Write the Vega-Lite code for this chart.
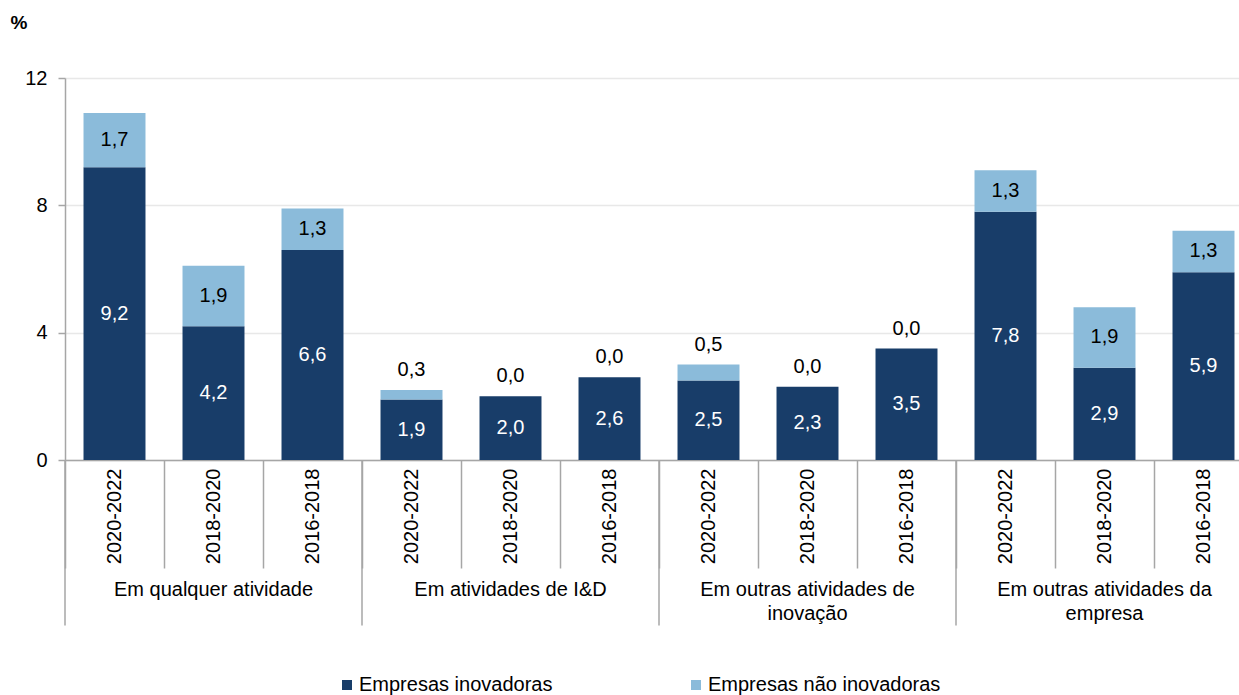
{
  "$schema": "https://vega.github.io/schema/vega-lite/v6.json",
  "width": 1188,
  "height": 382,
  "autosize": {"type": "none"},
  "padding": {"left": 65, "top": 78, "right": -14, "bottom": 235},
  "config": {
    "locale": {"number": {"decimal": ",", "thousands": ".", "grouping": [3], "currency": ["", " €"]}},
    "view": {"stroke": null},
    "font": "Liberation Sans",
    "text": {"font": "Liberation Sans", "fontSize": 20, "lineBreak": "\n"}
  },
  "datasets": {
    "segs": [
      {"grupo": "Em qualquer atividade", "periodo": "2020-2022", "bar": "1|2020-2022", "serie": "Empresas inovadoras", "valor": 9.2},
      {"grupo": "Em qualquer atividade", "periodo": "2020-2022", "bar": "1|2020-2022", "serie": "Empresas não inovadoras", "valor": 1.7},
      {"grupo": "Em qualquer atividade", "periodo": "2018-2020", "bar": "1|2018-2020", "serie": "Empresas inovadoras", "valor": 4.2},
      {"grupo": "Em qualquer atividade", "periodo": "2018-2020", "bar": "1|2018-2020", "serie": "Empresas não inovadoras", "valor": 1.9},
      {"grupo": "Em qualquer atividade", "periodo": "2016-2018", "bar": "1|2016-2018", "serie": "Empresas inovadoras", "valor": 6.6},
      {"grupo": "Em qualquer atividade", "periodo": "2016-2018", "bar": "1|2016-2018", "serie": "Empresas não inovadoras", "valor": 1.3},
      {"grupo": "Em atividades de I&D", "periodo": "2020-2022", "bar": "2|2020-2022", "serie": "Empresas inovadoras", "valor": 1.9},
      {"grupo": "Em atividades de I&D", "periodo": "2020-2022", "bar": "2|2020-2022", "serie": "Empresas não inovadoras", "valor": 0.3},
      {"grupo": "Em atividades de I&D", "periodo": "2018-2020", "bar": "2|2018-2020", "serie": "Empresas inovadoras", "valor": 2.0},
      {"grupo": "Em atividades de I&D", "periodo": "2018-2020", "bar": "2|2018-2020", "serie": "Empresas não inovadoras", "valor": 0.0},
      {"grupo": "Em atividades de I&D", "periodo": "2016-2018", "bar": "2|2016-2018", "serie": "Empresas inovadoras", "valor": 2.6},
      {"grupo": "Em atividades de I&D", "periodo": "2016-2018", "bar": "2|2016-2018", "serie": "Empresas não inovadoras", "valor": 0.0},
      {"grupo": "Em outras atividades de inovação", "periodo": "2020-2022", "bar": "3|2020-2022", "serie": "Empresas inovadoras", "valor": 2.5},
      {"grupo": "Em outras atividades de inovação", "periodo": "2020-2022", "bar": "3|2020-2022", "serie": "Empresas não inovadoras", "valor": 0.5},
      {"grupo": "Em outras atividades de inovação", "periodo": "2018-2020", "bar": "3|2018-2020", "serie": "Empresas inovadoras", "valor": 2.3},
      {"grupo": "Em outras atividades de inovação", "periodo": "2018-2020", "bar": "3|2018-2020", "serie": "Empresas não inovadoras", "valor": 0.0},
      {"grupo": "Em outras atividades de inovação", "periodo": "2016-2018", "bar": "3|2016-2018", "serie": "Empresas inovadoras", "valor": 3.5},
      {"grupo": "Em outras atividades de inovação", "periodo": "2016-2018", "bar": "3|2016-2018", "serie": "Empresas não inovadoras", "valor": 0.0},
      {"grupo": "Em outras atividades da empresa", "periodo": "2020-2022", "bar": "4|2020-2022", "serie": "Empresas inovadoras", "valor": 7.8},
      {"grupo": "Em outras atividades da empresa", "periodo": "2020-2022", "bar": "4|2020-2022", "serie": "Empresas não inovadoras", "valor": 1.3},
      {"grupo": "Em outras atividades da empresa", "periodo": "2018-2020", "bar": "4|2018-2020", "serie": "Empresas inovadoras", "valor": 2.9},
      {"grupo": "Em outras atividades da empresa", "periodo": "2018-2020", "bar": "4|2018-2020", "serie": "Empresas não inovadoras", "valor": 1.9},
      {"grupo": "Em outras atividades da empresa", "periodo": "2016-2018", "bar": "4|2016-2018", "serie": "Empresas inovadoras", "valor": 5.9},
      {"grupo": "Em outras atividades da empresa", "periodo": "2016-2018", "bar": "4|2016-2018", "serie": "Empresas não inovadoras", "valor": 1.3}
    ],
    "grupos": [
      {"grupo": "Em qualquer atividade", "label": "Em qualquer atividade", "first": "1|2020-2022", "mid": "1|2018-2020"},
      {"grupo": "Em atividades de I&D", "label": "Em atividades de I&D", "first": "2|2020-2022", "mid": "2|2018-2020"},
      {"grupo": "Em outras atividades de inovação", "label": "Em outras atividades de\ninovação", "first": "3|2020-2022", "mid": "3|2018-2020"},
      {"grupo": "Em outras atividades da empresa", "label": "Em outras atividades da\nempresa", "first": "4|2020-2022", "mid": "4|2018-2020"}
    ]
  },
  "resolve": {"scale": {"x": "shared", "y": "shared"}},
  "layer": [
    {
      "data": {"name": "segs"},
      "transform": [
        {"stack": "valor", "groupby": ["bar"], "sort": [{"field": "serie", "order": "ascending"}], "as": ["v0", "v1"]}
      ],
      "mark": {"type": "bar", "width": {"band": 0.626}},
      "encoding": {
        "x": {
          "field": "bar", "type": "nominal",
          "scale": {
            "domain": ["1|2020-2022", "1|2018-2020", "1|2016-2018", "2|2020-2022", "2|2018-2020", "2|2016-2018", "3|2020-2022", "3|2018-2020", "3|2016-2018", "4|2020-2022", "4|2018-2020", "4|2016-2018"],
            "paddingInner": 0, "paddingOuter": 0
          },
          "axis": {
            "title": null, "labelAngle": -90, "labelFontSize": 20, "labelColor": "#000000", "labelFont": "Liberation Sans",
            "labelPadding": -100, "tickBand": "extent", "tickSize": 108, "tickColor": "#a6a6a6", "tickWidth": 1.5,
            "domainColor": "#a6a6a6", "domainWidth": 1.5,
            "labelExpr": "split(datum.label, '|')[1]"
          }
        },
        "y": {
          "field": "v0", "type": "quantitative",
          "scale": {"domain": [0, 12], "nice": false, "zero": true},
          "axis": {
            "values": [0, 4, 8, 12], "title": "%", "titleAngle": 0, "titleX": -55, "titleY": -56, "titleAlign": "left", "titleBaseline": "middle",
            "titleFontSize": 19, "titleFontWeight": "bold", "titleFont": "Liberation Sans", "titleColor": "#000000",
            "labelFontSize": 20, "labelColor": "#000000", "labelFont": "Liberation Sans", "labelPadding": 11,
            "tickSize": 7, "tickColor": "#a6a6a6", "tickWidth": 1.5, "domainColor": "#a6a6a6", "domainWidth": 1.5,
            "gridColor": "#e8e8e8", "gridWidth": 1.5, "grid": true, "format": "d"
          }
        },
        "y2": {"field": "v1"},
        "color": {
          "field": "serie", "type": "nominal",
          "scale": {"domain": ["Empresas inovadoras", "Empresas não inovadoras"], "range": ["#183d69", "#8bbbda"]},
          "legend": {
            "title": null, "orient": "none", "direction": "horizontal", "legendX": 272, "legendY": 597,
            "symbolType": "square", "symbolSize": 100, "symbolStrokeWidth": 0, "labelFontSize": 20, "labelFont": "Liberation Sans",
            "labelColor": "#000000", "labelOffset": 2, "columnPadding": 133, "padding": 0, "labelLimit": 400
          }
        }
      }
    },
    {
      "data": {"name": "segs"},
      "transform": [
        {"stack": "valor", "groupby": ["bar"], "sort": [{"field": "serie", "order": "ascending"}], "as": ["v0", "v1"]},
        {"filter": "datum.serie == 'Empresas inovadoras' || datum.valor >= 1"},
        {"fold": ["v0", "v1"], "as": ["edge", "pos"]},
        {"aggregate": [{"op": "mean", "field": "pos", "as": "mid"}], "groupby": ["bar", "serie", "valor"]}
      ],
      "mark": {"type": "text", "baseline": "middle", "align": "center"},
      "encoding": {
        "x": {"field": "bar", "type": "nominal"},
        "y": {"field": "mid", "type": "quantitative"},
        "text": {"field": "valor", "type": "quantitative", "format": ".1f"},
        "color": {
          "condition": {"test": "datum.serie == 'Empresas inovadoras'", "value": "#ffffff"},
          "value": "#000000"
        }
      }
    },
    {
      "data": {"name": "segs"},
      "transform": [
        {"stack": "valor", "groupby": ["bar"], "sort": [{"field": "serie", "order": "ascending"}], "as": ["v0", "v1"]},
        {"filter": "datum.serie == 'Empresas não inovadoras' && datum.valor < 1"}
      ],
      "mark": {"type": "text", "baseline": "alphabetic", "align": "center", "dy": -14, "color": "#000000"},
      "encoding": {
        "x": {"field": "bar", "type": "nominal"},
        "y": {"field": "v1", "type": "quantitative"},
        "text": {"field": "valor", "type": "quantitative", "format": ".1f"}
      }
    },
    {
      "data": {"name": "grupos"},
      "mark": {"type": "rule", "color": "#a6a6a6", "strokeWidth": 1.5},
      "encoding": {
        "x": {"field": "first", "type": "nominal", "bandPosition": 0},
        "y": {"datum": 0},
        "y2": {"datum": -5.2}
      }
    },
    {
      "data": {"name": "grupos"},
      "mark": {"type": "text", "baseline": "top", "align": "center", "color": "#000000", "lineHeight": 24, "fontSize": 20},
      "encoding": {
        "x": {"field": "mid", "type": "nominal"},
        "y": {"datum": -3.78},
        "text": {"field": "label", "type": "nominal"}
      }
    }
  ]
}
